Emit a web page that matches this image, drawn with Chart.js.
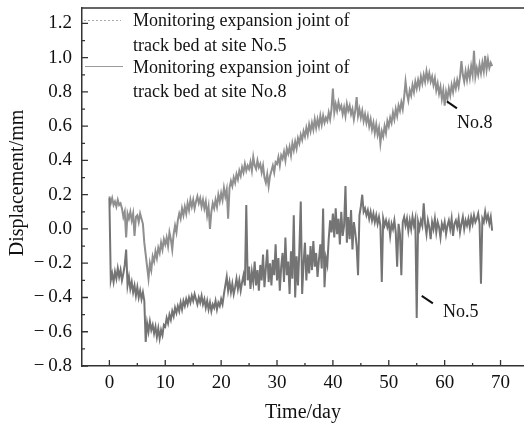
<!DOCTYPE html>
<html lang="en">
<head>
<meta charset="UTF-8">
<title>Expansion joint displacement</title>
<script src="https://cdn.jsdelivr.net/npm/chart.js"></script>
<style>
  html, body { margin: 0; padding: 0; background: #ffffff; overflow: hidden; }
  .chart-box { position: relative; width: 524px; height: 425px; }
</style>
</head>
<body>
<div class="chart-box"><canvas id="joint-chart" width="524" height="425"></canvas></div>
<script>
// readings every quarter of a day, starting at day 0
const sampleStep = 0.25;

// site No.5 (lower trace)
const site5 = [
  0.18,-0.30,-0.26,-0.31, -0.25,-0.29,-0.23,-0.28, -0.24,-0.30,-0.26,-0.21, -0.12,-0.33,-0.28,-0.35,
  -0.31,-0.37,-0.33,-0.39, -0.34,-0.40,-0.36,-0.41, -0.37,-0.42,-0.66,-0.55, -0.60,-0.54,-0.59,-0.56,
  -0.61,-0.57,-0.63,-0.58, -0.64,-0.59,-0.62,-0.56, -0.57,-0.52,-0.55,-0.50, -0.53,-0.48,-0.51,-0.46,
  -0.49,-0.45,-0.48,-0.43, -0.47,-0.42,-0.45,-0.41, -0.44,-0.40,-0.43,-0.39, -0.42,-0.38,-0.41,-0.44,
  -0.40,-0.43,-0.39,-0.44, -0.41,-0.46,-0.42,-0.47, -0.43,-0.48,-0.44,-0.46, -0.42,-0.47,-0.43,-0.45,
  -0.41,-0.44,-0.38,-0.33, -0.28,-0.36,-0.31,-0.37, -0.32,-0.38,-0.34,-0.29, -0.35,-0.30,-0.36,-0.31,
  -0.27,-0.33,0.14,-0.30, -0.22,-0.35,-0.25,-0.31, -0.19,-0.33,-0.24,-0.36, -0.21,-0.30,-0.15,-0.34,
  -0.23,-0.12,-0.31,-0.20, -0.33,-0.18,-0.27,-0.09, -0.30,-0.17,-0.36,-0.22, -0.14,-0.31,-0.05,-0.27,
  -0.19,-0.38,-0.13,-0.29, 0.08,-0.40,-0.16,-0.33, -0.12,0.16,-0.38,-0.20, -0.08,-0.30,-0.15,-0.26,
  -0.10,-0.24,-0.07,-0.22, -0.14,-0.28,-0.18,-0.09, -0.23,0.12,-0.34,-0.17, -0.21,-0.06,0.05,-0.02,
  0.09,-0.05,0.12,-0.03, 0.06,-0.09,0.10,-0.04, 0.02,0.25,-0.08,0.07, -0.06,0.11,-0.12,0.04,
  -0.02,-0.10,-0.27,0.08, 0.13,0.20,0.10,0.12, 0.08,0.11,0.06,0.10, 0.05,0.09,0.04,0.08,
  0.03,0.07,0.02,-0.31, 0.06,0.02,0.05,0.01, 0.04,-0.04,0.03,0.00, 0.05,-0.02,-0.22,0.03,
  -0.03,-0.27,0.04,0.07, 0.02,0.06,-0.01,0.05, 0.00,0.07,0.02,0.06, -0.52,0.04,0.00,0.05,
  0.02,0.15,0.03,-0.03, 0.05,0.01,-0.06,0.04, 0.00,0.06,-0.02,0.04, 0.01,-0.05,0.03,0.00,
  0.04,-0.03,0.02,0.05, 0.00,0.06,-0.04,0.03, 0.05,0.01,0.06,-0.02, 0.03,0.07,0.00,0.05,
  0.02,0.06,0.01,0.07, 0.03,0.08,0.04,0.06, 0.09,0.03,-0.32,0.06, 0.04,0.10,0.05,0.08,
  0.03,0.07,-0.01
];

// site No.8 (upper trace)
const site8 = [
  0.19,0.15,0.18,0.14, 0.16,0.13,0.17,0.14, 0.15,0.12,0.07,0.10, -0.05,0.09,0.06,0.10,
  0.05,0.09,-0.04,0.07, 0.08,0.04,0.09,0.06, 0.03,-0.08,-0.15,-0.22, -0.29,-0.20,-0.24,-0.16,
  -0.19,-0.13,-0.17,-0.11, -0.14,-0.08,-0.12,-0.06, -0.09,-0.05,-0.10,-0.02, -0.06,-0.12,-0.03,0.02,
  -0.02,0.05,0.09,0.06, 0.12,0.08,0.13,0.09, 0.15,0.11,0.17,0.13, 0.17,0.12,0.16,0.19,
  0.15,0.18,0.13,0.17, 0.12,0.16,0.08,0.13, 0.00,0.10,0.15,0.12, 0.17,0.13,0.20,0.16,
  0.21,0.17,0.24,0.19, 0.23,0.06,0.24,0.28, 0.25,0.30,0.27,0.32, 0.29,0.34,0.31,0.36,
  0.33,0.38,0.34,0.37, 0.35,0.39,0.34,0.42, 0.37,0.35,0.40,0.36, 0.38,0.33,0.37,0.30,
  0.27,0.32,0.25,0.31, 0.34,0.37,0.33,0.39, 0.38,0.42,0.37,0.43, 0.41,0.45,0.40,0.47,
  0.44,0.48,0.43,0.50, 0.46,0.51,0.47,0.53, 0.50,0.55,0.52,0.57, 0.54,0.59,0.55,0.61,
  0.57,0.62,0.58,0.64, 0.59,0.64,0.60,0.66, 0.61,0.66,0.62,0.65, 0.63,0.68,0.64,0.70,
  0.82,0.68,0.73,0.69, 0.74,0.70,0.72,0.67, 0.71,0.66,0.73,0.69, 0.72,0.67,0.70,0.64,
  0.69,0.77,0.66,0.70, 0.65,0.69,0.63,0.67, 0.62,0.66,0.60,0.64, 0.58,0.62,0.56,0.61,
  0.55,0.59,0.50,0.57, 0.54,0.60,0.56,0.63, 0.60,0.65,0.62,0.68, 0.64,0.70,0.66,0.72,
  0.69,0.74,0.70,0.77, 0.86,0.79,0.75,0.81, 0.78,0.84,0.80,0.86, 0.82,0.87,0.83,0.89,
  0.85,0.90,0.86,0.92, 0.87,0.91,0.86,0.89, 0.84,0.88,0.81,0.85, 0.79,0.83,0.76,0.81,
  0.72,0.80,0.76,0.82, 0.78,0.84,0.80,0.86, 0.82,0.87,0.83,0.89, 0.98,0.90,0.86,0.92,
  0.87,0.93,0.88,0.95, 0.90,1.04,0.89,0.94, 0.90,0.96,0.91,0.97, 0.92,1.01,0.93,0.99,
  0.94,0.97,0.95
];

const xTicks = [0, 10, 20, 30, 40, 50, 60, 70];
const xMinorTicks = [5, 15, 25, 35, 45, 55, 65];
const yTicks = [-0.8, -0.6, -0.4, -0.2, 0.0, 0.2, 0.4, 0.6, 0.8, 1.0, 1.2];
const yMinorTicks = [-0.7, -0.5, -0.3, -0.1, 0.1, 0.3, 0.5, 0.7, 0.9, 1.1];

const legendText = [
  ['Monitoring expansion joint of', 'track bed at site No.5'],
  ['Monitoring expansion joint of', 'track bed at site No.8']
];

const notes = [
  { text: 'No.8', from: [60.4, 0.745], to: [62.2, 0.704], at: [62.2, 0.616] },
  { text: 'No.5', from: [55.9, -0.391], to: [57.9, -0.434], at: [59.7, -0.487] }
];

const serif = '"Liberation Serif", "Times New Roman", serif';

function toPoints(values) {
  return values.map((v, i) => ({ x: i * sampleStep, y: v }));
}

function fmt(v) {
  const s = Math.abs(v).toFixed(1);
  return v < -0.001 ? '\u2212\u2009' + s : s;
}

const framePlugin = {
  id: 'frame',
  afterDraw(chart) {
    const { ctx, chartArea: a, scales: { x, y } } = chart;
    ctx.save();

    // top border
    ctx.strokeStyle = '#333333';
    ctx.lineWidth = 1.5;
    ctx.beginPath();
    ctx.moveTo(a.left, a.top);
    ctx.lineTo(a.right, a.top);
    ctx.stroke();

    // inward ticks
    ctx.lineWidth = 1.3;
    ctx.beginPath();
    xTicks.forEach(v => {
      const px = x.getPixelForValue(v);
      ctx.moveTo(px, a.bottom); ctx.lineTo(px, a.bottom - 6);
    });
    xMinorTicks.forEach(v => {
      const px = x.getPixelForValue(v);
      ctx.moveTo(px, a.bottom); ctx.lineTo(px, a.bottom - 3);
    });
    yTicks.forEach(v => {
      const py = y.getPixelForValue(v);
      ctx.moveTo(a.left, py); ctx.lineTo(a.left + 6, py);
    });
    yMinorTicks.forEach(v => {
      const py = y.getPixelForValue(v);
      ctx.moveTo(a.left, py); ctx.lineTo(a.left + 3, py);
    });
    ctx.stroke();

    // axis titles
    ctx.fillStyle = '#111111';
    ctx.font = '20px ' + serif;
    ctx.textAlign = 'center';
    ctx.textBaseline = 'middle';
    ctx.fillText('Time/day', (a.left + a.right) / 2, 413);
    ctx.save();
    ctx.translate(18, 183);
    ctx.rotate(-Math.PI / 2);
    ctx.fillText('Displacement/mm', 0, 0);
    ctx.restore();

    // legend
    ctx.lineWidth = 1;
    ctx.strokeStyle = '#a8a8a8';
    ctx.setLineDash([2, 2]);
    ctx.beginPath(); ctx.moveTo(84, 20.5); ctx.lineTo(121, 20.5); ctx.stroke();
    ctx.setLineDash([]);
    ctx.strokeStyle = '#9a9a9a';
    ctx.beginPath(); ctx.moveTo(85, 66.5); ctx.lineTo(123, 66.5); ctx.stroke();

    ctx.font = '18px ' + serif;
    ctx.textAlign = 'left';
    ctx.fillText(legendText[0][0], 133, 21);
    ctx.fillText(legendText[0][1], 133, 46);
    ctx.fillText(legendText[1][0], 133, 68);
    ctx.fillText(legendText[1][1], 133, 92);

    // site annotations
    notes.forEach(n => {
      ctx.strokeStyle = '#111111';
      ctx.lineWidth = 2;
      ctx.beginPath();
      ctx.moveTo(x.getPixelForValue(n.from[0]), y.getPixelForValue(n.from[1]));
      ctx.lineTo(x.getPixelForValue(n.to[0]), y.getPixelForValue(n.to[1]));
      ctx.stroke();
      ctx.fillText(n.text, x.getPixelForValue(n.at[0]), y.getPixelForValue(n.at[1]));
    });

    ctx.restore();
  }
};

const ctx = document.getElementById('joint-chart').getContext('2d');
const jointChart = new Chart(ctx, {
  type: 'line',
  data: {
    datasets: [
      {
        label: 'site No.5',
        data: toPoints(site5),
        borderColor: '#747474',
        borderWidth: 2,
        pointRadius: 0,
        tension: 0
      },
      {
        label: 'site No.8',
        data: toPoints(site8),
        borderColor: '#8f8f8f',
        borderWidth: 2,
        pointRadius: 0,
        tension: 0
      }
    ]
  },
  options: {
    responsive: false,
    animation: false,
    layout: { padding: { top: 8, right: 0, left: 0, bottom: 0 } },
    plugins: {
      legend: { display: false },
      tooltip: { enabled: false }
    },
    scales: {
      x: {
        type: 'linear',
        min: -4.9,
        max: 74.2,
        afterBuildTicks: s => { s.ticks = xTicks.map(v => ({ value: v })); },
        afterFit: s => {
          s.height = 59;
          s.paddingLeft = 0; s.paddingRight = 0; s.paddingTop = 0; s.paddingBottom = 0;
        },
        grid: { display: false, drawTicks: false },
        border: { display: true, color: '#333333', width: 1.5 },
        ticks: {
          padding: 6,
          color: '#111111',
          maxRotation: 0,
          font: { family: serif, size: 19 },
          callback: v => String(v)
        }
      },
      y: {
        min: -0.8,
        max: 1.29,
        afterBuildTicks: s => { s.ticks = yTicks.map(v => ({ value: v })); },
        afterFit: s => {
          s.width = 82;
          s.paddingLeft = 0; s.paddingRight = 0; s.paddingTop = 0; s.paddingBottom = 0;
        },
        grid: { display: false, drawTicks: false },
        border: { display: true, color: '#333333', width: 1.5 },
        ticks: {
          padding: 10,
          color: '#111111',
          font: { family: serif, size: 19 },
          callback: v => fmt(v)
        }
      }
    }
  },
  plugins: [framePlugin]
});
</script>
</body>
</html>
